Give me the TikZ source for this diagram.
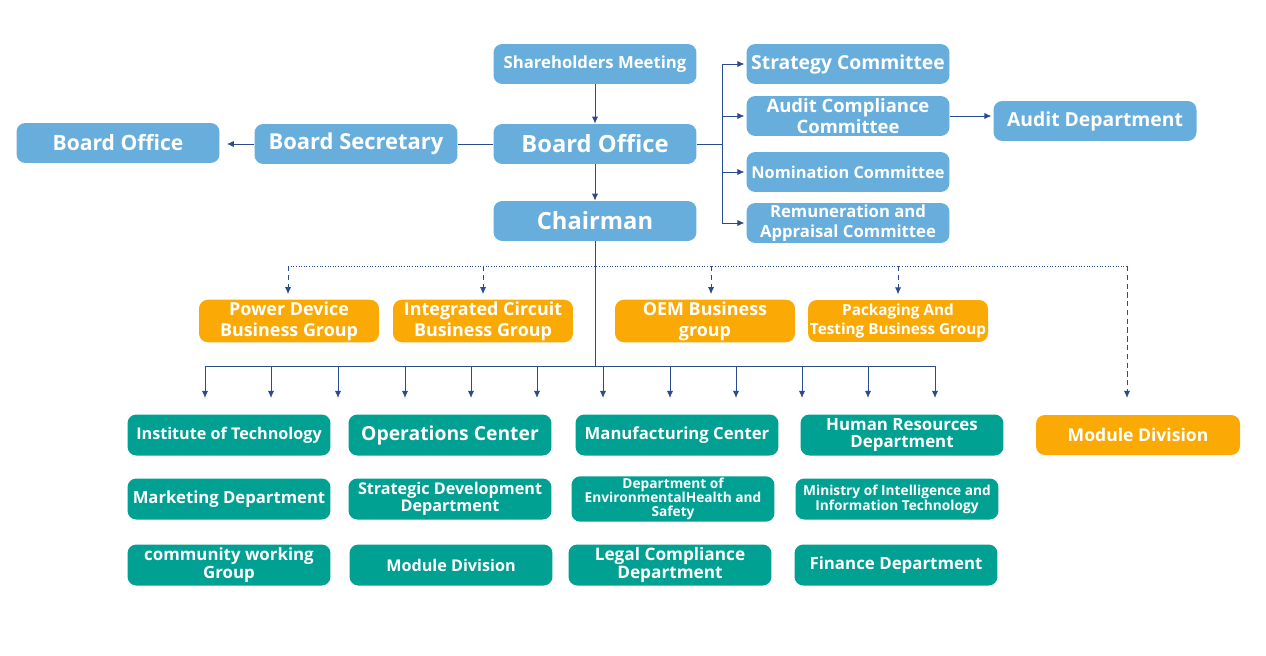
\documentclass[tikz,border=0pt]{standalone}
\usepackage{fontspec}
\setmainfont{Open Sans}
\usetikzlibrary{arrows.meta}

\definecolor{boxblue}{HTML}{68AEDC}
\definecolor{boxteal}{HTML}{00A093}
\definecolor{boxorange}{HTML}{FBAA05}
\definecolor{linkblue}{HTML}{2B4C8C}
\newcommand{\fsz}[2]{\fontsize{#1}{#2}\selectfont\bfseries}

\begin{document}
\begin{tikzpicture}[x=0.02cm, y=-0.02cm, >={Latex[length=4pt,width=3.5pt]},
		box/.style={rounded corners=5pt, minimum width=4.06cm, minimum height=0.8cm, text=white, align=center, inner sep=1pt},
		bluebox/.style={box, fill=boxblue},
		tealbox/.style={box, fill=boxteal, minimum height=0.82cm},
		orangebox/.style={box, fill=boxorange, minimum width=3.6cm, minimum height=0.84cm},
		link/.style={draw=linkblue, line width=0.5pt}]
		\useasboundingbox (0,0) rectangle (1266,655);
		% governance
		\node[bluebox, font=\fsz{9.5}{11}] (sh) at (595,64) {Shareholders Meeting};
		\node[bluebox, font=\fsz{13.5}{15}] (bo) at (595,144) {Board Office};
		\node[bluebox, font=\fsz{13.5}{15}] (ch) at (595,221) {Chairman};
		\node[bluebox, font=\fsz{12.5}{14}] (bs) at (356,144) {Board Secretary};
		\node[bluebox, font=\fsz{12}{14}] (bol) at (118,143) {Board Office};
		\node[bluebox, font=\fsz{11}{13}] (sc) at (848,64) {Strategy Committee};
		\node[bluebox, font=\fsz{10.5}{12}] (ac) at (848,116) {Audit Compliance\\Committee};
		\node[bluebox, font=\fsz{9.3}{12}] (nc) at (848,172) {Nomination Committee};
		\node[bluebox, font=\fsz{9.5}{11}] (rc) at (848,223) {Remuneration and\\Appraisal Committee};
		\node[bluebox, font=\fsz{11}{13}] (ad) at (1095,121) {Audit Department};
		% business groups
		\node[orangebox, font=\fsz{10.2}{12}] (pd) at (289,321) {Power Device\\Business Group};
		\node[orangebox, font=\fsz{10.2}{12}] (ic) at (483,321) {Integrated Circuit\\Business Group};
		\node[orangebox, font=\fsz{10.2}{12}] (oem) at (705,321) {OEM Business\\group};
		\node[orangebox, font=\fsz{8.7}{10.5}] (pt) at (898,321) {Packaging And\\Testing Business Group};
		\node[orangebox, minimum width=4.08cm, minimum height=0.8cm, font=\fsz{10}{12}] (mdo) at (1138,435) {Module Division};
		% departments
		\node[tealbox, font=\fsz{9.2}{11}] (it) at (229,435) {Institute of Technology};
		\node[tealbox, font=\fsz{11}{13}] (oc) at (450,435) {Operations Center};
		\node[tealbox, font=\fsz{9.5}{11}] (mc) at (677,435) {Manufacturing Center};
		\node[tealbox, font=\fsz{9.6}{10}] (hr) at (902,435) {Human Resources\\Department};
		\node[tealbox, font=\fsz{9.5}{11}] (mk) at (229,499) {Marketing Department};
		\node[tealbox, font=\fsz{9.2}{9.5}] (sd) at (450,499) {Strategic Development\\Department};
		\node[tealbox, font=\fsz{7.8}{8}] (eh) at (673,499) {Department of\\EnvironmentalHealth and\\Safety};
		\node[tealbox, font=\fsz{7.8}{8.5}] (mi) at (897,499) {Ministry of Intelligence and\\Information Technology};
		\node[tealbox, font=\fsz{9.6}{10}] (cw) at (229,565) {community working\\Group};
		\node[tealbox, font=\fsz{9.2}{11}] (md) at (451,565) {Module Division};
		\node[tealbox, font=\fsz{9.8}{10}] (lc) at (670,565) {Legal Compliance\\Department};
		\node[tealbox, font=\fsz{9.6}{11}] (fd) at (896,565) {Finance Department};
		% links
		\draw[link,->] (sh) -- (bo);
		\draw[link,->] (bo) -- (ch);
		\draw[link] (bo.west) -- (bs.east);
		\draw[link,->,shorten >=4pt] (bs.west) -- (bs.west -| bol.east);
		\coordinate (jr) at (722,144);
		\draw[link] (bo.east) -- (jr);
		\foreach \n in {sc,ac,nc,rc}
			\draw[link,->,shorten >=1pt] (jr) |- (\n.west);
		\draw[link,->,shorten >=1pt] (ac.east) -- (ac.east -| ad.west);
		\coordinate (bus) at (595,366);
		\draw[link] (ch) -- (bus);
		\coordinate (busl) at (205,366);
		\coordinate (busr) at (935,366);
		\draw[link] (busl) -- (busr);
		\foreach \x [count=\i] in {205,271,338,405,471,537,603,670,736,802,868,935} {
			\coordinate (top\i) at (\x,366);
			\coordinate (end\i) at (\x,398);
			\draw[link,->] (top\i) -- (end\i);
		}
		% dotted links
		\coordinate (dl) at (288,266);
		\coordinate (dr) at (1127,266);
		\coordinate (d2) at (483,266);
		\coordinate (d3) at (711,266);
		\coordinate (d4) at (898,266);
		\coordinate (dend) at (1127,398);
		\draw[link, densely dotted] (dl) -- (dr);
		\draw[link, densely dashed, ->, shorten >=3pt] (dl) -- (dl |- pd.north);
		\draw[link, densely dashed, ->, shorten >=3pt] (d2) -- (d2 |- ic.north);
		\draw[link, densely dashed, ->, shorten >=3pt] (d3) -- (d3 |- oem.north);
		\draw[link, densely dashed, ->, shorten >=3pt] (d4) -- (d4 |- pt.north);
		\draw[link, densely dashed, ->] (dr) -- (dend);
	\end{tikzpicture}
\end{document}
